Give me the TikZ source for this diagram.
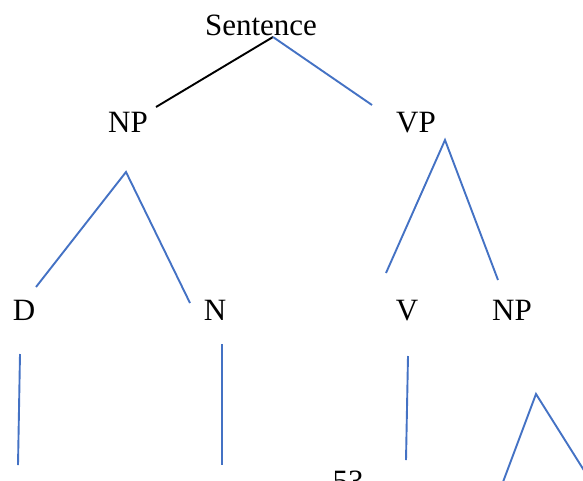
\documentclass[tikz,border=0pt]{standalone}
\usepackage{fontspec}
\setmainfont{Liberation Serif}
\begin{document}
\begin{tikzpicture}[x=1pt,y=-1pt,
  lbl/.style={anchor=base,inner sep=0pt,font=\fontsize{31}{31}\selectfont},
  branch/.style={draw=treeblue,line width=1.9pt},
  rootbranch/.style={draw=black,line width=1.9pt}]
\definecolor{treeblue}{HTML}{4472C4}
\useasboundingbox (0,0) rectangle (583,480);
% labels
\node[lbl] (s)   at (261,35)  {Sentence};
\node[lbl] (np)  at (128,132) {NP};
\node[lbl] (vp)  at (416,132) {VP};
\node[lbl] (d)   at (24,320)  {D};
\node[lbl] (n)   at (215,320) {N};
\node[lbl] (v)   at (407,320) {V};
\node[lbl] (np2) at (512,320) {NP};
\node[lbl] (pg)  at (348,491) {53};
% branch end points
\coordinate (sA) at (273,37);
\coordinate (sL) at (156,107);
\coordinate (sR) at (372,105);
\coordinate (npA) at (126,172);
\coordinate (npL) at (36,287);
\coordinate (npR) at (190,303);
\coordinate (vpA) at (445,140);
\coordinate (vpL) at (386,273);
\coordinate (vpR) at (498,280);
\coordinate (dT) at (20,354);
\coordinate (dB) at (18,465);
\coordinate (nT) at (222,344);
\coordinate (nB) at (222,465);
\coordinate (vT) at (408,356);
\coordinate (vB) at (406,460);
\coordinate (tA) at (536,394);
\coordinate (tL) at (503,482);
\coordinate (tR) at (585,472);
% branches
\draw[rootbranch] (sA) -- (sL);
\draw[branch] (sA) -- (sR);
\draw[branch] (npL) -- (npA) -- (npR);
\draw[branch] (vpL) -- (vpA) -- (vpR);
\draw[branch] (dT) -- (dB);
\draw[branch] (nT) -- (nB);
\draw[branch] (vT) -- (vB);
\draw[branch] (tL) -- (tA) -- (tR);
\end{tikzpicture}
\end{document}
